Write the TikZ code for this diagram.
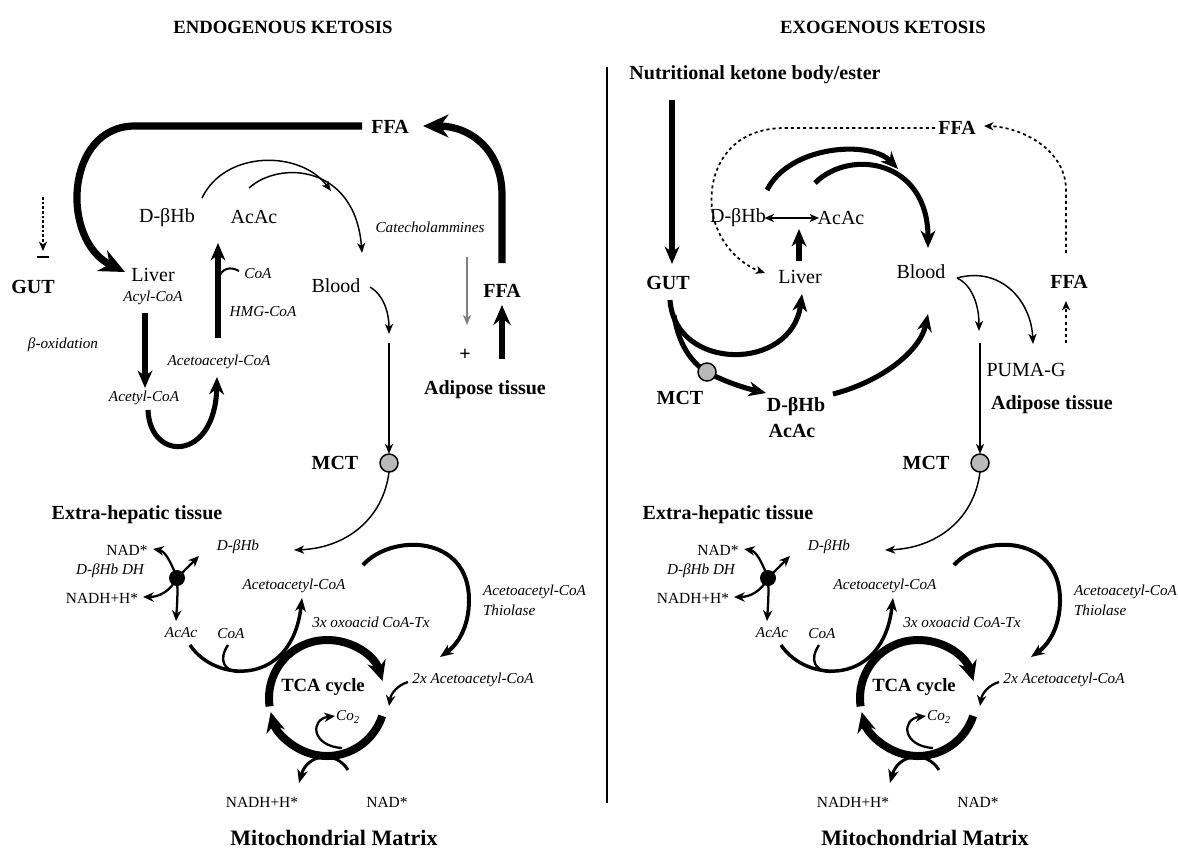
\documentclass[tikz,border=0pt]{standalone}
\usepackage{fontspec}
\setmainfont{Liberation Serif}
\usetikzlibrary{arrows.meta}
\begin{document}
\begin{tikzpicture}[x=0.75pt,y=-0.75pt,
  every node/.style={inner sep=0pt,outer sep=0pt},
  rg/.style={font=\fontsize{15}{18}\selectfont},
  bd/.style={font=\fontsize{15}{18}\selectfont\bfseries},
  tt/.style={font=\fontsize{14}{17}\selectfont\bfseries},
  it/.style={font=\fontsize{11.4}{14}\selectfont\itshape},
  sm/.style={font=\fontsize{11.6}{14}\selectfont},
  tarr/.style={line width=1.1pt,-{Stealth[length=7.5pt,width=6pt,inset=2pt]}},
  marr/.style={line width=1.7pt,-{Stealth[length=8pt,width=7pt,inset=2.5pt]}},
  narr/.style={line width=2.4pt,-{Stealth[length=10pt,width=8pt,inset=3pt]}},
  karr/.style={line width=3.8pt,-{Stealth[length=13pt,width=11pt,inset=4pt]}},
  xarr/.style={line width=5.4pt,-{Stealth[length=19pt,width=17pt,inset=6pt]}},
  tcas/.style={line width=6pt,-{Stealth[length=15pt,width=14pt,inset=5pt]}},
  dotl/.style={line width=1.3pt,dash pattern=on 2.3pt off 2.3pt,-{Stealth[length=7pt,width=6pt,inset=2pt]}},
  mctc/.style={circle,draw,line width=1.1pt,fill=gray!55,minimum size=13.5pt},
]
\useasboundingbox[fill=white] (0,0) rectangle (1178,854);

% ================= shared lower parts (both panels) =================
\foreach \s/\p in {0/L,591/R}{
\begin{scope}[shift={(\s,0)}]
  \node[bd] (\p mct) at (335,463) {MCT};
  \node[mctc] (\p mcc) at (389,463) {};
  \node[bd] (\p ext) at (137,515) {Extra-hepatic tissue};
  \node[sm] (\p nadA) at (127,550) {NAD*};
  \node[it] (\p dh) at (110,571) {D-βHb DH};
  \node[sm] (\p nadhA) at (102,598) {NADH+H*};
  \node[it] (\p dbhb) at (238,547) {D-βHb};
  \node[it] (\p aca) at (294,586) {Acetoacetyl-CoA};
  \node[it] (\p ox) at (371,622) {3x oxoacid CoA-Tx};
  \node[it] (\p acac) at (181,633) {AcAc};
  \node[it] (\p coa) at (231,634) {CoA};
  \node[font=\fontsize{14}{17}\selectfont\bfseries] (\p tca) at (323,687) {TCA cycle};
  \node[it] (\p co) at (348,717) {Co\textsubscript{2}};
  \node[it] (\p two) at (473,680) {2x Acetoacetyl-CoA};
  \node[it,anchor=west] (\p thA) at (483,592) {Acetoacetyl-CoA};
  \node[it,anchor=west] (\p thB) at (483,610) {Thiolase};
  \node[sm] (\p nadhB) at (262,802) {NADH+H*};
  \node[sm] (\p nadB) at (387,802) {NAD*};
  \node[font=\fontsize{16.5}{20}\selectfont\bfseries] (\p mito) at (334,838) {Mitochondrial Matrix};
  % connectors
  \coordinate (\p m2) at (294,550);
  \draw[tarr] (\p mcc.south) .. controls (383,520) and (345,548) .. (\p m2);
  \coordinate (\p dc) at (177,578);
  \coordinate (\p e1) at (153,549);
  \coordinate (\p e2) at (199,556);
  \coordinate (\p e3) at (143,597);
  \coordinate (\p e4) at (176,621);
  \draw[marr] (\p dc) .. controls (171,562) and (165,551) .. (\p e1);
  \draw[marr] (\p dc) -- (\p e2);
  \draw[marr] (\p dc) .. controls (170,592) and (158,597) .. (\p e3);
  \draw[marr] (\p dc) .. controls (178,595) and (177,605) .. (\p e4);
  \node[circle,fill=black,minimum size=12pt] (\p dot) at (\p dc) {};
  \coordinate (\p k1) at (190,645);
  \coordinate (\p k2) at (302,598);
  \draw[narr,line width=2.6pt] (\p k1) .. controls (215,683) and (292,687) .. (\p k2);
  \coordinate (\p k3) at (228,645);
  \coordinate (\p k4) at (239,672);
  \draw[line width=1.8pt] (\p k3) .. controls (218,660) and (224,671) .. (\p k4);
  \coordinate (\p tc) at (327,698);
  \draw[tcas] (\p tc) ++(171.7:58) arc[start angle=171.7,end angle=343,radius=58];
  \draw[tcas] (\p tc) ++(18:58) arc[start angle=18,end angle=166,radius=58];
  \coordinate (\p q1) at (342,748);
  \coordinate (\p q2) at (335,716);
  \draw[marr] (\p q1) .. controls (311,746) and (310,719) .. (\p q2);
  \coordinate (\p w1) at (408,682);
  \coordinate (\p w2) at (389,706);
  \draw[marr] (\p w1) .. controls (398,685) and (391,693) .. (\p w2);
  \coordinate (\p h1) at (363,565);
  \coordinate (\p h2) at (440,657);
  \draw[narr,line width=3pt] (\p h1) .. controls (392,533) and (469,535) .. (469,600) .. controls (469,628) and (457,645) .. (\p h2);
  \coordinate (\p n1) at (348,770);
  \coordinate (\p n2) at (299,783);
  \draw[narr,line width=2.2pt] (\p n1) .. controls (336,750) and (307,754) .. (\p n2);
\end{scope}
}

% ================= left panel: endogenous =================
\node[tt] (tL) at (283,27) {ENDOGENOUS KETOSIS};
\node[bd] (ffaT) at (390,127) {FFA};
\node[bd] (ffaR) at (502,291) {FFA};
\node[bd] (gutL) at (33,287) {GUT};
\node[rg] (livL) at (153,275) {Liver};
\node[it] (acylL) at (153,298) {Acyl-CoA};
\node[rg] (dbL) at (167,218) {D-βHb};
\node[rg] (acL) at (254,217) {AcAc};
\node[rg] (bloodL) at (336,286) {Blood};
\node[it] (catL) at (430,227) {Catecholammines};
\node[it] (coaL) at (258,274) {CoA};
\node[it] (hmgL) at (263,312) {HMG-CoA};
\node[it] (boxL) at (63,345) {β-oxidation};
\node[it] (acetL) at (144,398) {Acetyl-CoA};
\node[it] (aacL) at (219,362) {Acetoacetyl-CoA};
\node[bd] (plusL) at (465,355) {+};
\node[bd] (adiL) at (485,390) {Adipose tissue};

\coordinate (f1) at (362,126);
\coordinate (f2) at (125,272);
\draw[xarr] (f1) -- (135,126) .. controls (65,126) and (60,240) .. (f2);
\coordinate (f3) at (502,263);
\coordinate (f4) at (423,126);
\draw[xarr] (f3) -- (502,195) .. controls (502,150) and (470,126) .. (f4);
\coordinate (u1) at (502,359);
\coordinate (u2) at (502,305);
\draw[line width=3.8pt,-{Stealth[length=15pt,width=13pt,inset=5pt]}] (u1) -- (u2);
\coordinate (g1) at (467,257);
\coordinate (g2) at (467,325);
\draw[tarr,gray] (g1) -- (g2);
\coordinate (d1) at (43,197);
\coordinate (d2) at (43,251);
\draw[line width=1.2pt,dash pattern=on 2pt off 1.5pt,-{Stealth[length=7pt,width=6pt,inset=2pt]}] (d1) -- (d2);
\coordinate (d3) at (37,257);
\coordinate (d4) at (49,257);
\draw[line width=1.8pt] (d3) -- (d4);
\coordinate (a1) at (145,313);
\coordinate (a2) at (145,388);
\draw[karr] (a1) -- (a2);
\coordinate (a3) at (148,410);
\coordinate (a4) at (217,377);
\draw[karr] (a3) .. controls (150,462) and (215,462) .. (a4);
\coordinate (a5) at (218,338);
\coordinate (a6) at (218,243);
\draw[karr] (a5) -- (a6);
\coordinate (a7) at (218,279);
\coordinate (a8) at (239,271);
\draw[line width=1.5pt] (a7) .. controls (222,268) and (230,266) .. (a8);
\coordinate (b1) at (202,198);
\coordinate (b2) at (331,191);
\draw[tarr] (b1) .. controls (225,150) and (300,150) .. (b2);
\coordinate (b3) at (249,188);
\coordinate (b4) at (362,253);
\draw[tarr] (b3) .. controls (280,160) and (355,165) .. (b4);
\coordinate (b5) at (370,287);
\coordinate (b6) at (389,334);
\draw[tarr] (b5) .. controls (385,296) and (389,315) .. (b6);
\coordinate (b7) at (389,343);
\draw[tarr] (b7) -- (Lmcc.north);

% ================= right panel: exogenous =================
\node[tt] (tR) at (883,27) {EXOGENOUS KETOSIS};
\coordinate (v1) at (607,67);
\coordinate (v2) at (607,803);
\draw[line width=1.2pt] (v1) -- (v2);
\node[bd] (nut) at (755,75) {Nutritional ketone body/ester};
\node[bd] (gutR) at (668,283) {GUT};
\node[rg] (livR) at (800,277) {Liver};
\node[rg] (dbR) at (738,218) {D-βHb};
\node[rg] (acR) at (841,218) {AcAc};
\node[bd] (ffaTR) at (957,128) {FFA};
\node[bd] (ffaRR) at (1069,282) {FFA};
\node[rg] (puma) at (1026,370) {PUMA-G};
\node[bd] (adiR) at (1052,405) {Adipose tissue};
\node[rg] (bloodR) at (921,272) {Blood};
\node[bd] (mctR2) at (680,398) {MCT};
\node[bd] (dbR2) at (796,407) {D-βHb};
\node[bd] (acR2) at (792,431) {AcAc};

\coordinate (r1) at (672,100);
\coordinate (r2) at (672,264);
\draw[karr] (r1) -- (r2);
\draw[line width=1.5pt,{Stealth[length=7pt,width=6pt,inset=2pt]}-{Stealth[length=7pt,width=6pt,inset=2pt]}] ([xshift=-1pt]dbR.east) -- ([xshift=1pt]acR.west);
\coordinate (r3) at (799,261);
\coordinate (r4) at (799,229);
\draw[karr] (r3) -- (r4);
\coordinate (p1) at (935,128);
\coordinate (p2) at (765,273);
\draw[dotl] (p1) -- (785,128) .. controls (722,128) and (706,180) .. (713,215) .. controls (720,248) and (745,266) .. (p2);
\coordinate (p3) at (1066,253);
\coordinate (p4) at (984,126);
\draw[dotl] (p3) -- (1066,190) .. controls (1066,150) and (1022,127) .. (p4);
\coordinate (p5) at (1066,343);
\coordinate (p6) at (1066,301);
\draw[dotl] (p5) -- (p6);
\coordinate (s0) at (957,278);
\coordinate (s1) at (979,331);
\coordinate (s2) at (1033,344);
\draw[tarr] (s0) .. controls (972,285) and (979,305) .. (s1);
\draw[tarr] (s0) .. controls (1000,266) and (1031,300) .. (s2);
\coordinate (s3) at (980,343);
\draw[tarr] (s3) -- (Rmcc.north);
\coordinate (t1) at (767,190);
\coordinate (t2) at (898,169);
\draw[karr] (t1) .. controls (790,145) and (870,140) .. (t2);
\coordinate (t3) at (815,183);
\coordinate (t4) at (928,248);
\draw[karr] (t3) .. controls (850,148) and (928,160) .. (t4);
\coordinate (t5) at (670,300);
\coordinate (t6) at (802,294);
\draw[karr] (t5) .. controls (675,372) and (792,372) .. (t6);
\coordinate (t7) at (674,315);
\coordinate (t8) at (766,393);
\draw[karr] (t7) .. controls (678,342) and (690,362) .. (707,372) .. controls (725,382) and (745,388) .. (t8);
\node[mctc] (mcR2) at (707,372) {};
\coordinate (t9) at (833,394);
\coordinate (t10) at (928,314);
\draw[karr] (t9) .. controls (880,382) and (920,352) .. (t10);
\end{tikzpicture}
\end{document}
